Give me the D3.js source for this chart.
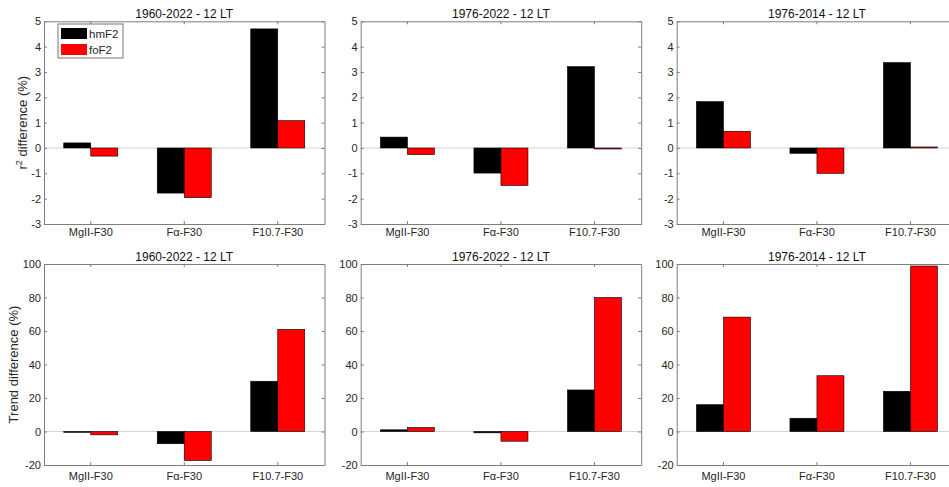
<!DOCTYPE html>
<html>
<head>
<meta charset="utf-8">
<script src="https://cdn.jsdelivr.net/npm/d3@7"></script>
<style>
  html, body { margin: 0; padding: 0; background: #fff; }
  svg { display: block; font-family: "Liberation Sans", Arial, Helvetica, sans-serif; }
</style>
</head>
<body>
<svg id="chart" width="949" height="487"></svg>
<script>
// Proxies compared against F30, and the two ionospheric parameters
const categories = ["MgII-F30", "Fα-F30", "F10.7-F30"];
const series = ["hmF2", "foF2"];
const periods = ["1960-2022 - 12 LT", "1976-2022 - 12 LT", "1976-2014 - 12 LT"];

// r² difference (%) per period, one value per proxy
const r2HmF2 = [[0.2, -1.78, 4.70], [0.43, -0.99, 3.21], [1.83, -0.21, 3.37]];
const r2FoF2 = [[-0.32, -1.96, 1.08], [-0.26, -1.48, -0.04], [0.66, -1.0, 0.04]];

// Trend difference (%) per period, one value per proxy
const trendHmF2 = [[-0.5, -7.3, 30], [1, -0.8, 24.8], [16, 7.9, 24]];
const trendFoF2 = [[-2, -17.3, 61], [2.4, -5.8, 80], [68.3, 33.3, 98.8]];

// Axis tick values
const r2Ticks = [-3, -2, -1, 0, 1, 2, 3, 4, 5];
const trendTicks = [-20, 0, 20, 40, 60, 80, 100];

const colors = { hmF2: "#000000", foF2: "#ff0000" };
const axisColor = "#7d7d7d";
const textColor = "#262626";

const svg = d3.select("#chart");

const colLeft = [44, 360.7, 676.7];
const panelW = 280.5;

const rows = [
  { top: 21.3, bottom: 224, domain: [-3, 5], ticks: r2Ticks, h: r2HmF2, f: r2FoF2,
    label: "r2", labelX: 27, tickLabelGap: 4 },
  { top: 264, bottom: 465, domain: [-20, 100], ticks: trendTicks, h: trendHmF2, f: trendFoF2,
    label: "Trend difference (%)", labelX: 18, tickLabelGap: 7.5 }
];

rows.forEach((row, ri) => {
  periods.forEach((period, ci) => {
    const left = colLeft[ci];
    const g = svg.append("g").attr("transform", `translate(${left},${row.top})`);
    const ph = row.bottom - row.top;

    const x = d3.scaleBand().domain(categories).range([0, panelW]).padding(0);
    const xs = d3.scaleBand().domain(series).range([0, x.bandwidth()]).paddingInner(0).paddingOuter(0.731);
    const y = d3.scaleLinear().domain(row.domain).range([ph, 0]);

    // baseline at zero
    g.append("line")
      .attr("x1", 0).attr("x2", panelW)
      .attr("y1", y(0)).attr("y2", y(0))
      .attr("stroke", "#d4d4d4").attr("stroke-width", 1);

    // bars
    const data = [];
    categories.forEach((c, k) => {
      data.push({ c, s: "hmF2", v: row.h[ci][k] });
      data.push({ c, s: "foF2", v: row.f[ci][k] });
    });
    g.selectAll("rect.bar").data(data).join("rect")
      .attr("class", "bar")
      .attr("x", d => x(d.c) + xs(d.s))
      .attr("width", xs.bandwidth())
      .attr("y", d => Math.min(y(d.v), y(0)))
      .attr("height", d => Math.max(Math.abs(y(d.v) - y(0)), 0.6))
      .attr("fill", d => colors[d.s])
      .attr("stroke", "#000")
      .attr("stroke-width", 0.6);

    // box axes with inward ticks
    const styleAxis = sel => {
      sel.selectAll("path.domain").attr("stroke", axisColor);
      sel.selectAll(".tick line").attr("stroke", axisColor);
      sel.selectAll("text").attr("fill", textColor)
        .style("font-family", '"Liberation Sans", Arial, sans-serif');
    };

    g.append("g").attr("transform", `translate(0,${ph})`)
      .call(d3.axisBottom(x).tickSize(-3).tickSizeOuter(0).tickPadding(row.tickLabelGap))
      .call(styleAxis)
      .call(s => s.selectAll("text").style("font-size", "11px"));

    g.append("g")
      .call(d3.axisTop(x).tickSize(-3).tickSizeOuter(0).tickFormat(""))
      .call(styleAxis);

    g.append("g")
      .call(d3.axisLeft(y).tickValues(row.ticks).tickSize(-3).tickSizeOuter(0).tickPadding(3)
        .tickFormat(d => String(d)))
      .call(styleAxis)
      .call(s => s.selectAll("text").style("font-size", "11px"));

    g.append("g").attr("transform", `translate(${panelW},0)`)
      .call(d3.axisRight(y).tickValues(row.ticks).tickSize(-3).tickSizeOuter(0).tickFormat(""))
      .call(styleAxis);

    // title
    g.append("text")
      .attr("x", panelW / 2)
      .attr("y", ri === 0 ? 18 - row.top : 260.5 - row.top)
      .attr("text-anchor", "middle")
      .attr("fill", "#111")
      .style("font-size", "12px")
      .text(period);

    // legend in the first panel
    if (ri === 0 && ci === 0) {
      const lg = g.append("g").attr("transform", `translate(${58 - left},${24 - row.top})`);
      lg.append("rect")
        .attr("width", 65).attr("height", 34)
        .attr("fill", "#fff").attr("stroke", "#777").attr("stroke-width", 1);
      series.forEach((s, i) => {
        lg.append("rect")
          .attr("x", 3).attr("y", 4 + i * 16)
          .attr("width", 26).attr("height", 11)
          .attr("fill", colors[s]);
        lg.append("text")
          .attr("x", 31).attr("y", 9.5 + i * 16)
          .attr("dy", "0.35em")
          .attr("fill", textColor)
          .style("font-size", "11.5px")
          .text(s);
      });
    }
  });

  // y-axis label on the first column
  const cy = (row.top + row.bottom) / 2;
  const t = svg.append("text")
    .attr("transform", `translate(${row.labelX},${cy}) rotate(-90)`)
    .attr("text-anchor", "middle")
    .attr("fill", textColor)
    .style("font-size", "13px");
  if (row.label === "r2") {
    t.append("tspan").text("r");
    t.append("tspan").attr("baseline-shift", "super").style("font-size", "9px").text("2");
    t.append("tspan").text(" difference (%)");
  } else {
    t.text(row.label);
  }
});
</script>
</body>
</html>
